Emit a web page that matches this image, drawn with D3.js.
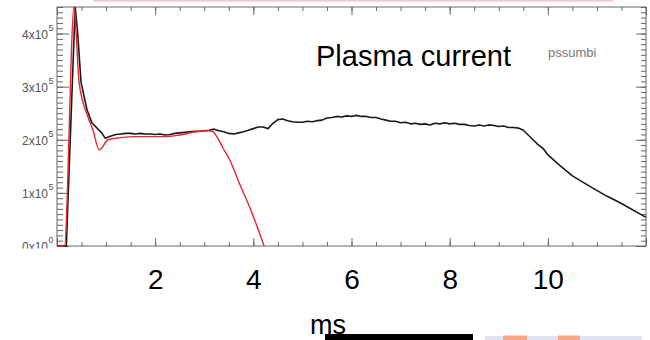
<!DOCTYPE html>
<html><head><meta charset="utf-8">
<script src="https://cdn.jsdelivr.net/npm/d3@7"></script>
<style>body{margin:0;background:#fff}svg{display:block}</style>
</head><body><svg id="c" width="650" height="340"></svg>
<script>
// ---- data (current in units of 1e5 A, time in ms) ----
const blackTime = [0,0.19,0.37,0.42,0.49,0.61,0.71,0.91,0.98,
 1.1,1.2,1.3,1.4,1.5,1.6,1.7,1.8,1.9,2.0,2.1,2.2,2.3,2.4,2.5,2.6,2.7,2.8,2.9,3.0,
 3.1,3.2,3.3,3.4,3.5,3.6,3.7,3.8,3.9,4.0,4.1,4.2,4.3,4.4,4.5,4.6,4.7,4.8,4.9,5.0,
 5.1,5.2,5.3,5.4,5.5,5.6,5.7,5.8,5.9,6.0,6.1,6.2,6.3,6.4,6.5,6.6,6.7,6.8,6.9,7.0,
 7.1,7.2,7.3,7.4,7.5,7.6,7.7,7.8,7.9,8.0,8.1,8.2,8.3,8.4,8.5,8.6,8.7,8.8,8.9,9.0,
 9.1,9.2,9.3,9.4,9.5,9.6,9.7,9.8,9.9,10.0,10.2,10.5,10.9,11.2,11.5,11.9,12.0];
const blackCurrent = [0,0,4.51,4.02,3.08,2.57,2.32,2.13,2.03,
 2.07,2.10,2.11,2.12,2.12,2.11,2.12,2.11,2.11,2.10,2.11,2.09,2.10,2.12,2.13,2.14,2.15,2.16,2.16,2.17,
 2.18,2.20,2.17,2.15,2.12,2.11,2.13,2.15,2.18,2.21,2.24,2.24,2.21,2.31,2.38,2.39,2.36,2.34,2.33,2.33,
 2.35,2.34,2.36,2.37,2.41,2.42,2.44,2.43,2.45,2.44,2.46,2.44,2.44,2.42,2.42,2.39,2.37,2.35,2.35,2.32,
 2.33,2.30,2.31,2.29,2.30,2.28,2.31,2.30,2.32,2.30,2.31,2.29,2.29,2.27,2.26,2.28,2.26,2.28,2.27,2.25,
 2.26,2.23,2.23,2.22,2.18,2.09,2.00,1.91,1.84,1.72,1.55,1.32,1.10,0.94,0.80,0.59,0.54];
const redTime = [0,0.15,0.35,0.39,0.45,0.63,0.73,0.86,1.04,1.29,1.59,1.9,2.22,2.5,2.84,3.08,3.18,3.28,3.38,3.52,3.73,3.93,4.22];
const redCurrent = [0,0,4.52,4.0,3.08,2.43,2.19,1.81,2.00,2.04,2.06,2.06,2.06,2.09,2.15,2.17,2.15,2.02,1.85,1.62,1.15,0.72,0];

const xTickValues = [2,4,6,8,10];
const xTickLabels = ["2","4","6","8","10"];
const yTickValues = [0,1,2,3,4];
const yTickMantissa = ["0","1","2","3","4"];
const yTickExponent = ["0","5","5","5","5"];
const titleText = "Plasma current";
const tagText = "pssumbi";
const xLabelText = "ms";

// ---- layout ----
const svg = d3.select("#c");
const m = {l:57, r:646, t:7, b:246};
const x = d3.scaleLinear().domain([0,12]).range([m.l,m.r]);
const y = d3.scaleLinear().domain([0,4.5]).range([m.b,m.t]);
const axisCol = "#666";

// pink artifact line at top
svg.append("line").attr("x1",93).attr("x2",613).attr("y1",0.8).attr("y2",0.8)
  .attr("stroke","#f6c4ca").attr("stroke-width",1.6);

function styleAxis(g){
  g.select(".domain").remove();
  g.selectAll("line").attr("stroke",axisCol).attr("stroke-width",1);
  g.selectAll("text").remove();
}
const xMajor = d3.range(0,12.01,2), xMinor = d3.range(0,12.01,0.5);
const yMajor = d3.range(0,4.51,1), yMinor = d3.range(0,4.51,0.1);

svg.append("g").attr("transform",`translate(0,${m.b})`).call(d3.axisBottom(x).tickValues(xMinor).tickSize(-4)).call(styleAxis);
svg.append("g").attr("transform",`translate(0,${m.b})`).call(d3.axisBottom(x).tickValues(xMajor).tickSize(-8)).call(styleAxis);
svg.append("g").attr("transform",`translate(0,${m.t})`).call(d3.axisTop(x).tickValues(xMinor).tickSize(-4)).call(styleAxis);
svg.append("g").attr("transform",`translate(0,${m.t})`).call(d3.axisTop(x).tickValues(xMajor).tickSize(-8)).call(styleAxis);
svg.append("g").attr("transform",`translate(${m.l},0)`).call(d3.axisLeft(y).tickValues(yMinor).tickSize(-6)).call(styleAxis);
svg.append("g").attr("transform",`translate(${m.l},0)`).call(d3.axisLeft(y).tickValues(yMajor).tickSize(-12)).call(styleAxis);
svg.append("g").attr("transform",`translate(${m.r},0)`).call(d3.axisRight(y).tickValues(yMinor).tickSize(-5)).call(styleAxis);
svg.append("g").attr("transform",`translate(${m.r},0)`).call(d3.axisRight(y).tickValues(yMajor).tickSize(-10)).call(styleAxis);

svg.append("rect").attr("x",m.l).attr("y",m.t).attr("width",m.r-m.l).attr("height",m.b-m.t)
  .attr("fill","none").attr("stroke",axisCol).attr("stroke-width",1);

// y labels
const yl = svg.append("g").attr("font-family","Liberation Sans, Arial, sans-serif").attr("fill","#555");
yTickValues.forEach((v,i)=>{
  yl.append("text").attr("x",48).attr("y",y(v)+5).attr("text-anchor","end").attr("font-size",12)
    .text(yTickMantissa[i]+"x10");
  yl.append("text").attr("x",48.5).attr("y",y(v)-3).attr("font-size",9).text(yTickExponent[i]);
});
// white mask below the plot (hides the clipped original labels)
svg.append("rect").attr("x",0).attr("y",248.5).attr("width",650).attr("height",20).attr("fill","#fff");

// curves
svg.append("defs").append("clipPath").attr("id","pc").append("rect")
  .attr("x",m.l).attr("y",m.t).attr("width",m.r-m.l).attr("height",m.b-m.t+2);
const line = d3.line().x(d=>x(d[0])).y(d=>y(d[1]));
const smooth = d3.line().x(d=>x(d[0])).y(d=>y(d[1])).curve(d3.curveMonotoneX);
const gc = svg.append("g").attr("clip-path","url(#pc)");
gc.append("path").datum(blackTime.map((t,i)=>[t,blackCurrent[i]]))
  .attr("d",line).attr("fill","none").attr("stroke","#1a1a1a").attr("stroke-width",1.6).attr("stroke-linejoin","round");
gc.append("path").datum(redTime.map((t,i)=>[t,redCurrent[i]]))
  .attr("d",smooth).attr("fill","none").attr("stroke","#e8262b").attr("stroke-width",1.4).attr("stroke-linejoin","round");

// title and tag
svg.append("text").attr("x",316).attr("y",66).attr("font-family","Liberation Sans, Arial, sans-serif")
  .attr("font-size",29).attr("fill","#000").text(titleText);
svg.append("text").attr("x",548).attr("y",57).attr("font-family","Liberation Sans, Arial, sans-serif")
  .attr("font-size",13).attr("fill","#777").text(tagText);

// large x labels
const xl = svg.append("g").attr("transform","translate(0,269)")
  .call(d3.axisBottom(x).tickValues(xTickValues).tickFormat((d,i)=>xTickLabels[i]).tickSize(0).tickPadding(0));
xl.select(".domain").remove();
xl.selectAll("text").attr("font-family","Liberation Sans, Arial, sans-serif").attr("font-size",28).attr("fill","#000");

// x axis title and bottom artifacts
svg.append("text").attr("x",310).attr("y",334).attr("font-family","Liberation Sans, Arial, sans-serif")
  .attr("font-size",27).attr("fill","#000").text(xLabelText);
svg.append("rect").attr("x",325).attr("y",334).attr("width",148).attr("height",6).attr("fill","#000");
svg.append("rect").attr("x",485).attr("y",336).attr("width",157).attr("height",4).attr("fill","#e2e3f2");
svg.append("rect").attr("x",503).attr("y",335.5).attr("width",24).attr("height",4.5).attr("fill","#f5a888");
svg.append("rect").attr("x",558).attr("y",335.5).attr("width",22).attr("height",4.5).attr("fill","#f5a888");
</script></body></html>
